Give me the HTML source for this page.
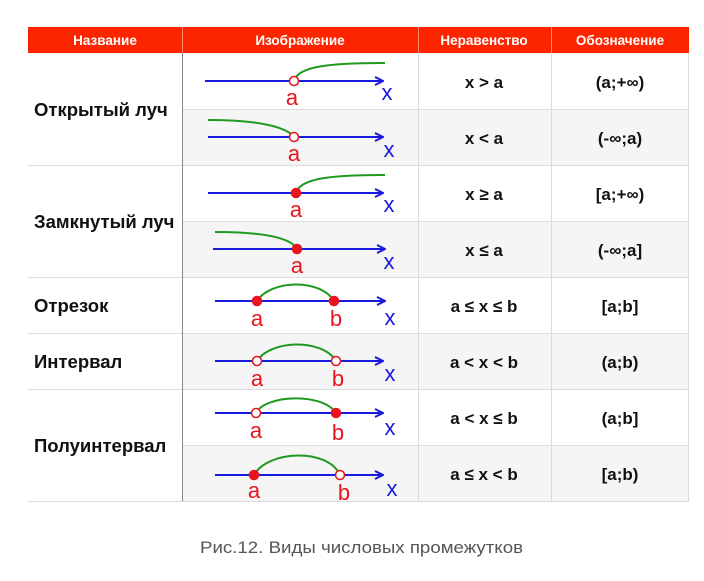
<!DOCTYPE html>
<html><head><meta charset="utf-8"><style>
html,body{margin:0;padding:0;background:#fff;}
svg{display:block;}
text{font-family:"Liberation Sans",sans-serif;}
</style></head><body>
<svg width="704" height="581" viewBox="0 0 704 581" xmlns="http://www.w3.org/2000/svg">
<defs>
<marker id="ar" markerWidth="10" markerHeight="10" refX="9" refY="5" orient="auto" markerUnits="userSpaceOnUse">
<path d="M1,1 L9,5 L1,9" fill="none" stroke="#1a1adf" stroke-width="2"/>
</marker>
</defs>
<rect x="28" y="27" width="661" height="26" fill="#fc2500"/>
<g stroke="#ff8a70" stroke-width="1"><line x1="182.5" y1="27" x2="182.5" y2="53"/><line x1="418.5" y1="27" x2="418.5" y2="53"/><line x1="551.5" y1="27" x2="551.5" y2="53"/></g>
<g fill="#fff" font-weight="bold" font-size="13.5" text-anchor="middle">
<text x="105" y="45">Название</text><text x="300" y="45">Изображение</text><text x="484" y="45">Неравенство</text><text x="620" y="45">Обозначение</text></g>
<g fill="#f5f5f5">
<rect x="183" y="109" width="506" height="56"/><rect x="183" y="221" width="506" height="56"/>
<rect x="183" y="333" width="506" height="56"/><rect x="183" y="445" width="506" height="56"/></g>
<g stroke="#dcdcdc" stroke-width="1">
<line x1="183" y1="109.5" x2="689" y2="109.5"/><line x1="28" y1="165.5" x2="689" y2="165.5"/>
<line x1="183" y1="221.5" x2="689" y2="221.5"/><line x1="28" y1="277.5" x2="689" y2="277.5"/>
<line x1="28" y1="333.5" x2="689" y2="333.5"/><line x1="28" y1="389.5" x2="689" y2="389.5"/>
<line x1="183" y1="445.5" x2="689" y2="445.5"/><line x1="28" y1="501.5" x2="689" y2="501.5"/>
<line x1="418.5" y1="53" x2="418.5" y2="501"/><line x1="551.5" y1="53" x2="551.5" y2="501"/>
<line x1="688.5" y1="53" x2="688.5" y2="501"/></g>
<line x1="182.5" y1="53" x2="182.5" y2="501" stroke="#888" stroke-width="1"/>
<g font-size="18.5" font-weight="bold" fill="#111">
<text x="34" y="116">Открытый луч</text><text x="34" y="228">Замкнутый луч</text>
<text x="34" y="312">Отрезок</text><text x="34" y="368">Интервал</text><text x="34" y="452">Полуинтервал</text></g>
<g font-size="17" font-weight="bold" fill="#111" text-anchor="middle">
<text x="484" y="88">x &gt; a</text><text x="484" y="144">x &lt; a</text><text x="484" y="200">x ≥ a</text><text x="484" y="256">x ≤ a</text>
<text x="484" y="312">a ≤ x ≤ b</text><text x="484" y="368">a &lt; x &lt; b</text><text x="484" y="424">a &lt; x ≤ b</text><text x="484" y="480">a ≤ x &lt; b</text>
<text x="620" y="88">(a;+∞)</text><text x="620" y="144">(-∞;a)</text><text x="620" y="200">[a;+∞)</text><text x="620" y="256">(-∞;a]</text>
<text x="620" y="312">[a;b]</text><text x="620" y="368">(a;b)</text><text x="620" y="424">(a;b]</text><text x="620" y="480">[a;b)</text></g>
<g stroke="#1a1adf" stroke-width="2" marker-end="url(#ar)">
<line x1="205" y1="81" x2="383" y2="81"/><line x1="208" y1="137" x2="383" y2="137"/>
<line x1="208" y1="193" x2="383" y2="193"/><line x1="213" y1="249" x2="385" y2="249"/>
<line x1="215" y1="301" x2="385" y2="301"/><line x1="215" y1="361" x2="383" y2="361"/>
<line x1="215" y1="413" x2="383" y2="413"/><line x1="215" y1="475" x2="383" y2="475"/></g>
<g stroke="#1f9a1f" stroke-width="2" fill="none">
<path d="M294,81 C298,66 330,63 385,63"/>
<path d="M208,120 C250,120 285,125 294,137"/>
<path d="M296,193 C300,178 332,175 385,175"/>
<path d="M215,232 C255,232 290,236 297,249"/>
<path d="M257,301 C270,280 320,278 334,301"/>
<path d="M257,361 C270,340 322,338 336,361"/>
<path d="M256,413 C265,395 322,392 336,413"/>
<path d="M254,475 C268,450 328,448 340,475"/></g>
<g stroke="#e8141e" stroke-width="1.5">
<circle cx="294" cy="81" r="4.5" fill="#fff"/><circle cx="294" cy="137" r="4.5" fill="#fff"/>
<circle cx="296" cy="193" r="4.5" fill="#e8141e"/><circle cx="297" cy="249" r="4.5" fill="#e8141e"/>
<circle cx="257" cy="301" r="4.5" fill="#e8141e"/><circle cx="334" cy="301" r="4.5" fill="#e8141e"/>
<circle cx="257" cy="361" r="4.5" fill="#fff"/><circle cx="336" cy="361" r="4.5" fill="#fff"/>
<circle cx="256" cy="413" r="4.5" fill="#fff"/><circle cx="336" cy="413" r="4.5" fill="#e8141e"/>
<circle cx="254" cy="475" r="4.5" fill="#e8141e"/><circle cx="340" cy="475" r="4.5" fill="#fff"/></g>
<g fill="#e8141e" font-size="22" text-anchor="middle">
<text x="292" y="105">a</text><text x="294" y="161">a</text><text x="296" y="217">a</text><text x="297" y="273">a</text>
<text x="257" y="326">a</text><text x="336" y="326">b</text><text x="257" y="386">a</text><text x="338" y="386">b</text>
<text x="256" y="438">a</text><text x="338" y="440">b</text><text x="254" y="498">a</text><text x="344" y="500">b</text></g>
<g fill="#1a1adf" font-size="22" text-anchor="middle">
<text x="387" y="100">x</text><text x="389" y="157">x</text><text x="389" y="212">x</text><text x="389" y="269">x</text>
<text x="390" y="325">x</text><text x="390" y="381">x</text><text x="390" y="435">x</text><text x="392" y="496">x</text></g>
<text x="200" y="553" font-size="17" fill="#555" textLength="323" lengthAdjust="spacingAndGlyphs">Рис.12. Виды числовых промежутков</text>
</svg>
</body></html>
